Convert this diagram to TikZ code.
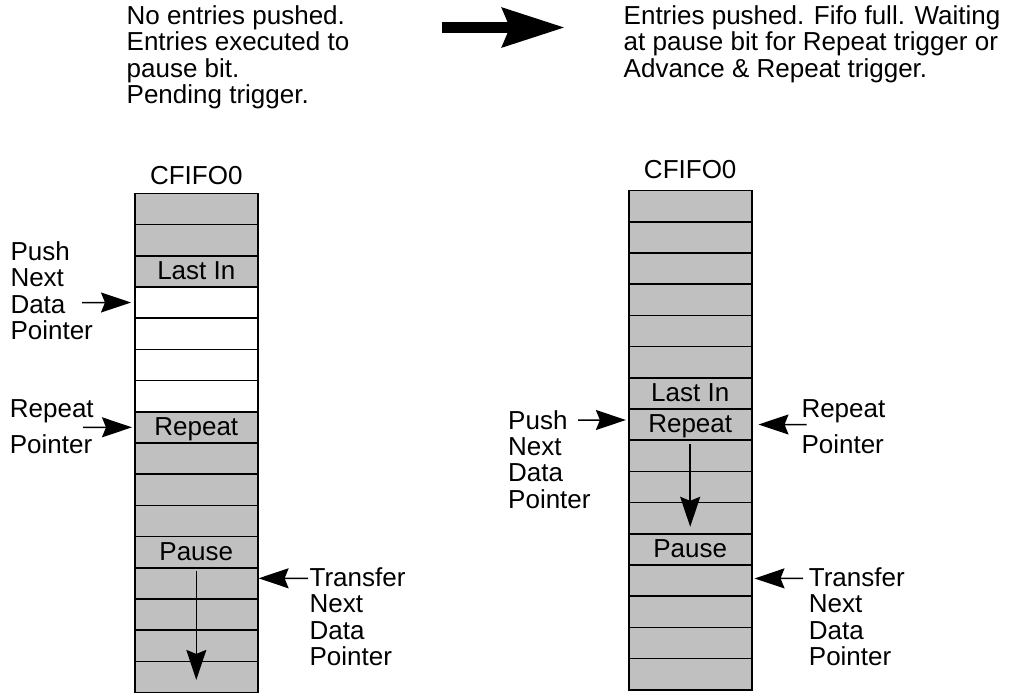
\documentclass[tikz,border=0pt]{standalone}
\usepackage{fontspec}
\setmainfont{Liberation Sans}
\usetikzlibrary{positioning,arrows.meta}
\definecolor{cellgray}{RGB}{192,192,192}

\begin{document}
\begin{tikzpicture}[
        x=1pt, y=-1pt,
        font=\fontsize{26}{26.4}\selectfont,
        cell/.style={draw, line width=1.6pt, fill=cellgray, minimum width=123pt, minimum height=31.2pt, inner sep=0pt, text height=19pt, text depth=3pt},
        note/.style={align=left, inner sep=0pt, anchor=north west},
        ptr/.style={-{Stealth[length=30pt, width=20pt, inset=4pt]}, line width=1.5pt},
        bigarrow/.style={-{Stealth[length=62pt, width=38pt, inset=7pt]}, line width=11.6pt}
    ]
    \useasboundingbox (0,0) rectangle (1012,694);

    % --- Captions ---
    \node[note] (capL) at (126.5, 5.4) {No entries pushed.\\Entries executed to\\pause bit.\\Pending trigger.};
    \node[note] (capR) at (623.5, 5.4) {Entries pushed. Fifo full. Waiting\\at pause bit for Repeat trigger or\\Advance \& Repeat trigger.};
    \coordinate (bigtail) at (442, 27.5);
    \coordinate (bighead) at (565, 27.5);

    % --- Left FIFO ---
    \foreach \i/\txt/\shade in {1//cellgray, 2//cellgray, 3/Last In/cellgray, 4//white, 5//white, 6//white, 7//white, 8/Repeat/cellgray,
                                9//cellgray, 10//cellgray, 11//cellgray, 12/Pause/cellgray, 13//cellgray, 14//cellgray, 15//cellgray, 16//cellgray}
        \node[cell, fill=\shade] (L\i) at (196.3, {193.3+31.2*(\i-0.5)}) {\txt};
    \node[above=8pt of L1, inner sep=0pt] (titleL) {CFIFO0};

    % --- Right FIFO ---
    \foreach \i/\txt in {1/, 2/, 3/, 4/, 5/, 6/, 7/Last In, 8/Repeat, 9/, 10/, 11/, 12/Pause, 13/, 14/, 15/, 16/}
        \node[cell] (R\i) at (690.2, {190.5+31.2*(\i-0.5)}) {\txt};
    \node[above=11pt of R1, inner sep=0pt] (titleR) {CFIFO0};

    % --- Pointer labels ---
    \node[note] (pushL) at (10.3, 241.4) {Push\\Next\\Data\\Pointer};
    \node[note] (repL) at (9.7, 399.7) {Repeat\\[9.6pt]Pointer};
    \node[note] (xferL) at (309.4, 567.4) {Transfer\\Next\\Data\\Pointer};
    \node[note] (pushR) at (508, 410) {Push\\Next\\Data\\Pointer};
    \node[note] (repR) at (801.3, 399.4) {Repeat\\[9.6pt]Pointer};
    \node[note] (xferR) at (808.7, 567.4) {Transfer\\Next\\Data\\Pointer};

    \coordinate (pushLtail) at (82, 302.5);
    \coordinate (repLtail) at (83, 427.3);
    \coordinate (xferLtail) at (308, 578.3);
    \coordinate (pushRtail) at (578, 420);
    \coordinate (repRtail) at (806.7, 424.5);
    \coordinate (xferRtail) at (803, 578.3);

    % --- Connections ---
    \draw[bigarrow] (bigtail) -- (bighead);

    \draw[ptr, shorten >=3pt] (pushLtail) -- (L4.west);
    \draw[ptr, shorten >=2pt] (repLtail) -- (L8.west);
    \draw[ptr] (xferLtail) -- ([yshift=5pt]L13.east);
    \draw[ptr] ([yshift=-4pt]L13.north) -- ([yshift=-3pt]L16.center);

    \draw[ptr, shorten >=2pt] (pushRtail) -- ([yshift=4.5pt]R8.west);
    \draw[ptr, shorten >=6pt] (repRtail) -- (R8.east);
    \draw[ptr, shorten >=2pt] (xferRtail) -- ([yshift=2pt]R13.east);
    \draw[ptr] ([yshift=-5pt]R9.north) -- ([yshift=-8.7pt]R11.center);

\end{tikzpicture}
\end{document}
